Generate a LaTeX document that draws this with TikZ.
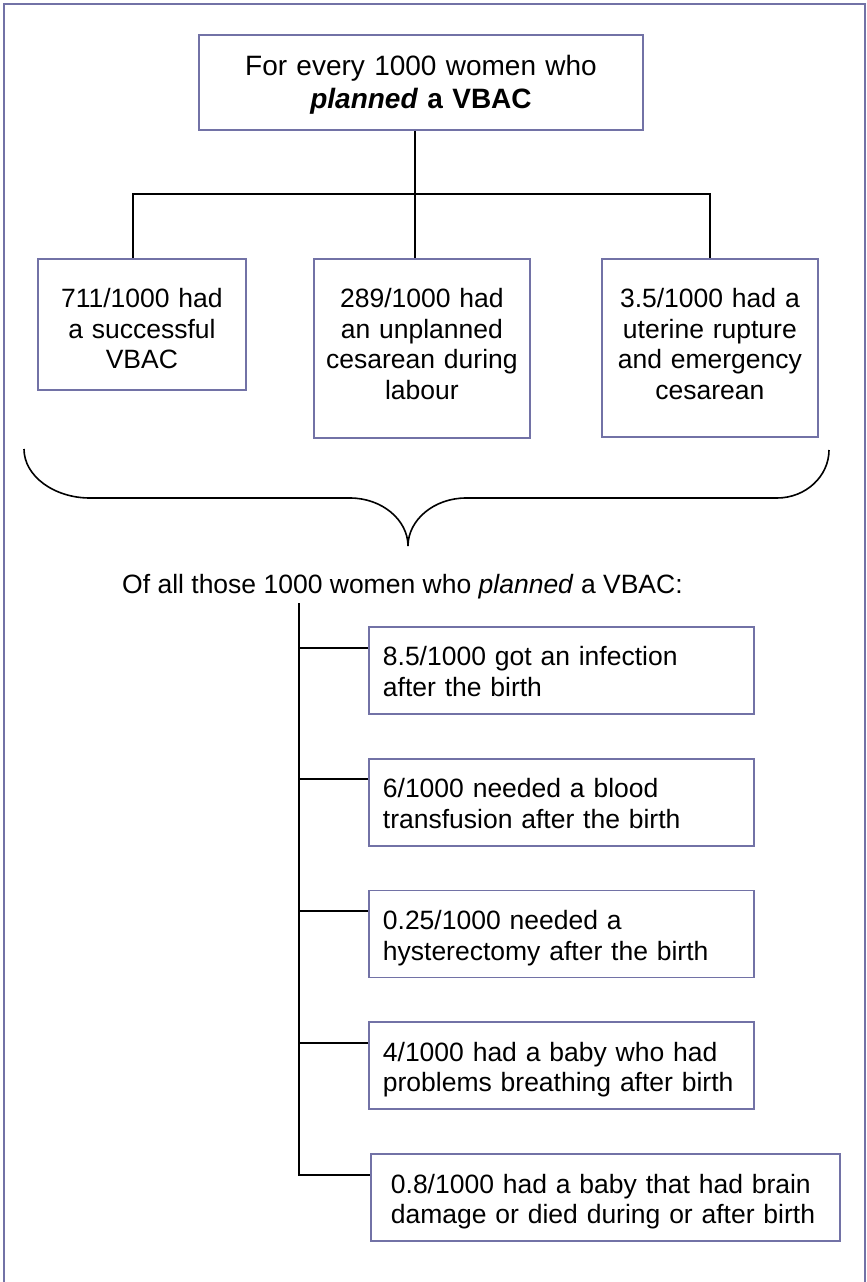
\documentclass[tikz,border=0pt]{standalone}
\usepackage{fontspec}
\setmainfont{Liberation Sans}
\usetikzlibrary{positioning}
\definecolor{framepurple}{RGB}{114,114,166}
\newcommand{\widthvbac}{208pt}
\newcommand{\widthoutcome}{216pt}
\newcommand{\widthrisk}{357pt}
\newcommand{\gaprisk}{43pt}
\newcommand{\riskin}{21.5pt}
\tikzset{
    common/.style={draw=framepurple, line width=1.8pt, rectangle, inner ysep=0pt,
        font=\fontsize{26.5}{30.5}\selectfont},
    outcome/.style={common, anchor=north west, inner xsep=0pt, align=center, text height=49pt},
    risk/.style={common, anchor=north west, inner xsep=14pt, align=left,
        text width=\widthrisk, text height=39pt, text depth=48pt},
    link/.style={draw, line width=2pt},
}
\begin{document}
\begin{tikzpicture}[x=1pt, y=-1pt]
\useasboundingbox (0,0) rectangle (867,1282);
% outer frame, open at the bottom
\draw[framepurple, line width=2pt] (4,1282) -- (4,4) -- (865,4) -- (865,1282);

\node[common, anchor=north, inner xsep=0pt, text width=444pt, align=center,
    text height=41pt, text depth=54pt, font=\fontsize{28}{32.5}\selectfont] (plan) at (421,34)
    {For every 1000 women who\\\textbf{\textit{planned} a VBAC}};

\node[outcome, text width=\widthvbac, text depth=82pt] (vbac) at (37,258) {711/1000 had\\a successful\\VBAC};
\node[outcome, text width=\widthoutcome, text depth=130pt] (cesarean) at (313,258) {289/1000 had\\an unplanned\\cesarean during\\labour};
\node[outcome, text width=\widthoutcome, text depth=129pt] (rupture) at (601,258) {3.5/1000 had a\\uterine rupture\\and emergency\\cesarean};

\coordinate (split) at (414.5,194);
\draw[link] (plan.south -| split) -- (split);
\draw[link] ([xshift=-9pt]vbac.north) |- (split) -| (rupture.north);
\draw[link] (split) -- (cesarean.north -| split);

% curly brace
\draw[line width=1.6pt] (24,449) .. controls (24,476) and (54,498) .. (90,498) -- (350,498)
    .. controls (382,498) and (408,520) .. (408,546)
    .. controls (408,520) and (434,498) .. (466,498) -- (777,498)
    .. controls (806,498) and (829,476) .. (829,450);

\node[inner sep=0pt, anchor=base west, font=\fontsize{26.5}{30.5}\selectfont] (summary) at (122,593)
    {Of all those 1000 women who \textit{planned} a VBAC:};

\node[risk] (infection) at (368,626) {8.5/1000 got an infection\\after the birth};
\node[risk, below=\gaprisk of infection.south west, anchor=north west] (transfusion) {6/1000 needed a blood\\transfusion after the birth};
\node[risk, below=\gaprisk of transfusion.south west, anchor=north west] (hysterectomy) {0.25/1000 needed a\\hysterectomy after the birth};
\node[risk, below=\gaprisk of hysterectomy.south west, anchor=north west] (breathing) {4/1000 had a baby who had\\problems breathing after birth};
\node[risk, below=\gaprisk of breathing.south west, anchor=north west, xshift=2pt,
    text width=429pt, inner xsep=20pt] (braindamage) {0.8/1000 had a baby that had brain\\damage or died during or after birth};

\coordinate (trunk) at (299,603);
\foreach \risk in {infection, transfusion, hysterectomy, breathing} {
    \path ([yshift=-\riskin]\risk.north west) coordinate (\risk-in);
    \draw[link] (\risk-in) -- (\risk-in -| trunk);
}
\draw[link] (trunk) |- ([yshift=-\riskin]braindamage.north west);
\end{tikzpicture}
\end{document}
